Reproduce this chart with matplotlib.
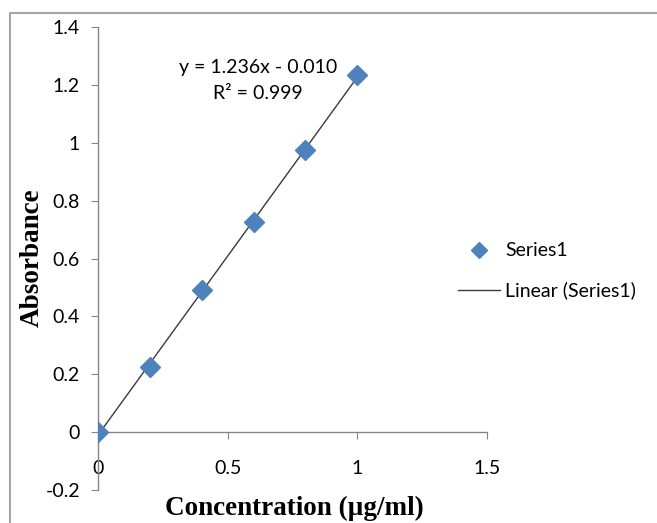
import matplotlib
matplotlib.use('Agg')
import matplotlib.pyplot as plt
from matplotlib.lines import Line2D
import numpy as np

# data
conc = [0.0, 0.2, 0.4, 0.6, 0.8, 1.0]
absorb = [0.0, 0.225, 0.49, 0.725, 0.975, 1.235]
x_ticks = [0, 0.5, 1, 1.5]
y_ticks = [-0.2, 0, 0.2, 0.4, 0.6, 0.8, 1, 1.2, 1.4]
eq_text = 'y = 1.236x - 0.010\nR\u00b2 = 0.999'

W, H = 657, 523
tick_font = 'Lato'
label_font = 'Liberation Serif'
grey = '#868686'
blue = '#4F81BD'
fs = 14

fig = plt.figure(figsize=(W / 100, H / 100), dpi=100, facecolor='white')
ax = fig.add_axes([98 / W, 33 / H, 389 / W, 463 / H])

# linear trend line
slope, icpt = np.polyfit(conc, absorb, 1)
xt = np.array([min(conc), max(conc)])
ax.plot(xt, slope * xt + icpt, color='#3a3a3a', lw=1.0, zorder=2,
        label='Linear (Series1)')
ax.plot(conc, absorb, linestyle='none', marker='D', ms=10, color=blue,
        mec=blue, zorder=3, label='Series1')

ax.set_xlim(0, 1.5)
ax.set_ylim(-0.2, 1.4)
ax.set_xticks(x_ticks)
ax.set_xticklabels(['0', '0.5', '1', '1.5'])
ax.set_yticks(y_ticks)
ax.set_yticklabels(['-0.2', '0', '0.2', '0.4', '0.6', '0.8', '1', '1.2', '1.4'])

ax.spines['top'].set_visible(False)
ax.spines['right'].set_visible(False)
ax.spines['bottom'].set_position(('data', 0))
for sp in ['left', 'bottom']:
    ax.spines[sp].set_color(grey)
    ax.spines[sp].set_linewidth(1.0)
ax.tick_params(axis='x', direction='out', length=5, color=grey, pad=15,
               labelsize=fs)
ax.tick_params(axis='y', direction='out', length=5, color=grey, pad=8,
               labelsize=fs)
for lab in ax.get_xticklabels() + ax.get_yticklabels():
    lab.set_fontfamily(tick_font)

ax.text(0.412, 0.884, eq_text, transform=ax.transAxes, ha='center',
        va='center', fontsize=fs, family=tick_font, linespacing=1.65)

ax.set_xlabel('Concentration (\u00b5g/ml)', fontsize=19.5, fontweight='bold',
              family=label_font, va='center', ha='center')
ax.xaxis.set_label_coords(0.506, -0.039)
ax.set_ylabel('Absorbance', fontsize=19.5, fontweight='bold',
              family=label_font, va='center', ha='center')
ax.yaxis.set_label_coords(-0.170, 0.501)

handles, labels = ax.get_legend_handles_labels()
leg = fig.legend(handles[::-1], labels[::-1], loc='center left',
                 bbox_to_anchor=(458 / W, 1 - 271 / H), frameon=False,
                 borderpad=0, borderaxespad=0, handlelength=2.16,
                 handletextpad=0.26, labelspacing=1.15, markerscale=0.85,
                 prop={'family': tick_font, 'size': fs})

# chart area border (cut off at right and bottom)
fig.add_artist(Line2D([10 / W, 10 / W, 1], [0, 1 - 13 / H, 1 - 13 / H],
                      transform=fig.transFigure, color='#a6a6a6', lw=1.5))

fig.savefig('out.png', dpi=100, facecolor='white')
